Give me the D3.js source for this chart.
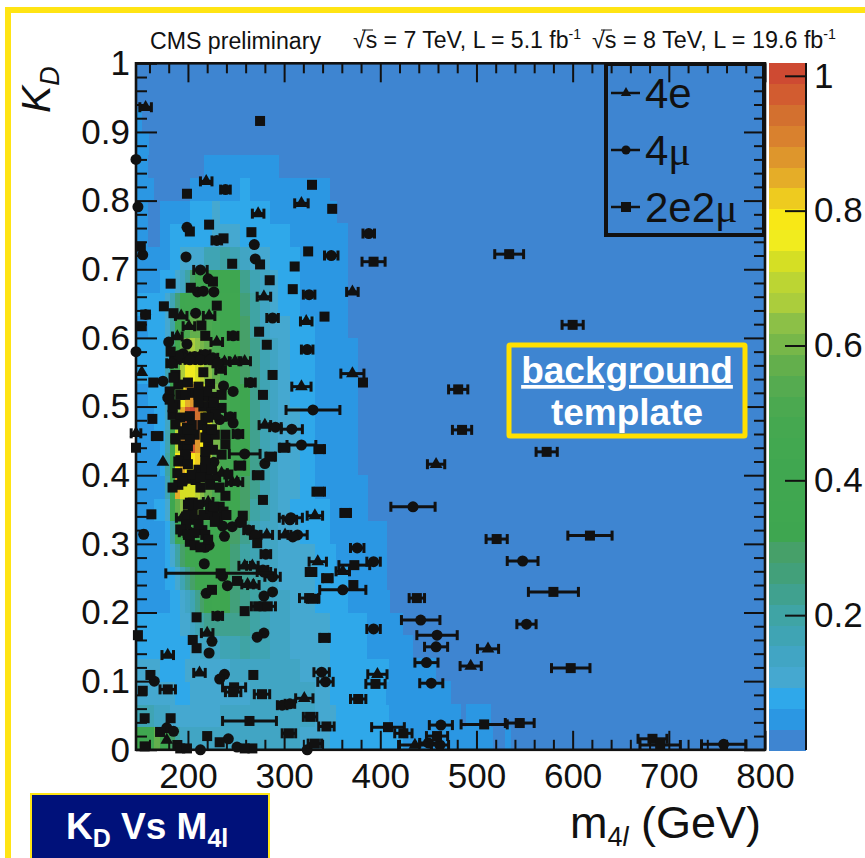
<!DOCTYPE html>
<html><head><meta charset="utf-8">
<script src="https://cdn.jsdelivr.net/npm/d3@7/dist/d3.min.js"></script>
<style>
html,body{margin:0;padding:0;background:#fff;overflow:hidden}
svg{display:block}
text{font-family:"Liberation Sans",Arial,sans-serif;fill:#111}
</style></head><body><div id="chart"></div>
<script>
// colour bands, lowest z first
const palette = ["#3E85D1","#2B97E3","#2FA8EA","#45A8D0","#41A5C4","#3FA4B4","#3FA4A5","#40A18F","#42A07A","#46A069",
"#3EA650","#3FA750","#40A750","#40A750","#42A850","#45A850","#4BA950","#55AB50","#63AF4C","#77B749","#8CC047",
"#ABCD3C","#BCD533","#D5DF24","#F1EC1E","#F8E816","#EECB1F","#E5AD28","#DE962C","#D9812E","#D3702F","#D25C30","#CE4A32"];
const xMajor = [200,300,400,500,600,700,800];
const yMajor = [0,0.1,0.2,0.3,0.4,0.5,0.6,0.7,0.8,0.9,1];
const zMajor = [0.2,0.4,0.6,0.8,1];
// template column edges in m4l (GeV)
const mEdges = [146,152.2,158.5,164.7,171,176.2,181.4,186.6,191.8,197,202.1,207.3,212.5,216.7,225,233.3,243.7,254.1,264.5,274.9,285.3,293.7,306.1,316.5,332.1,347.7,354,366.4,375.8,386.2,406,409.1,423.6,434,444.4,457.9,473.5,483.9,489.1,514.1,517.2,529.7,534.9];
// template values: first row is KD 0-1/30, each next row is 1/30 higher
const zRows = [
[.35,.35,.39,.57,.39,.35,.29,.20,.14,.14,.14,.14,.14,.14,.14,.14,.14,.14,.14,.14,.14,.14,.14,.11,.11,.08,.08,.08,.08,.08,.08,.08,.05,.05,.05,.05,.05,.05,.05,.05,.02,.05],
[.17,.17,.17,.14,.14,.14,.11,.11,.11,.11,.11,.11,.11,.11,.11,.14,.14,.14,.14,.14,.14,.14,.14,.14,.11,.11,.08,.08,.08,.08,.08,.05,.05,.05,.05,.05,.05,.02,.05],
[.11,.11,.11,.11,.11,.11,.11,.08,.08,.08,.11,.11,.11,.11,.11,.11,.11,.11,.14,.14,.14,.14,.14,.14,.11,.08,.08,.08,.08,.08,.05,.05,.05,.05,.05,.05],
[.11,.11,.11,.11,.08,.08,.08,.08,.08,.11,.11,.11,.11,.11,.11,.11,.14,.14,.14,.14,.14,.14,.14,.11,.11,.08,.08,.08,.08,.08,.08,.05,.05,.05,.05],
[.08,.08,.08,.08,.08,.08,.08,.08,.08,.08,.11,.11,.14,.14,.14,.17,.17,.20,.17,.17,.14,.14,.11,.11,.11,.08,.08,.08,.08,.05,.05,.05,.05],
[.08,.08,.08,.08,.08,.08,.08,.08,.11,.11,.14,.17,.20,.23,.23,.23,.23,.23,.20,.17,.14,.14,.11,.11,.11,.08,.08,.08,.08,.05,.05,.05],
[.05,.05,.05,.05,.05,.05,.08,.08,.11,.14,.17,.23,.29,.32,.35,.32,.26,.23,.20,.17,.14,.14,.11,.11,.08,.08,.08,.05,.05,.05,.05],
[.05,.05,.05,.05,.05,.08,.08,.11,.17,.23,.29,.35,.35,.35,.35,.32,.26,.23,.20,.17,.14,.11,.11,.11,.08,.08,.08,.05,.05,.05],
[.05,.05,.05,.05,.05,.08,.11,.20,.29,.35,.39,.35,.35,.35,.35,.32,.26,.20,.17,.14,.14,.11,.11,.11,.08,.08,.05,.05,.05,.05],
[.05,.05,.05,.05,.05,.08,.20,.35,.42,.48,.45,.42,.39,.35,.35,.32,.29,.23,.17,.14,.14,.11,.11,.08,.08,.05,.05,.05,.05,.05],
[.05,.05,.05,.08,.08,.11,.32,.57,.63,.69,.69,.63,.54,.51,.45,.39,.35,.29,.20,.17,.14,.11,.08,.08,.08,.05,.05,.05,.05],
[.05,.05,.05,.05,.05,.17,.42,.85,.73,.73,.73,.69,.63,.57,.51,.42,.35,.29,.23,.17,.14,.11,.11,.08,.05,.05,.05,.05,.05],
[.05,.05,.05,.05,.08,.20,.45,.79,.85,.79,.79,.82,.76,.66,.57,.48,.39,.32,.23,.17,.14,.11,.11,.08,.05,.05,.05,.05],
[.05,.05,.05,.05,.08,.17,.39,.69,.88,1,.97,.88,.79,.69,.60,.48,.39,.32,.23,.17,.14,.11,.11,.08,.05,.05,.05,.05],
[.05,.05,.05,.08,.08,.14,.35,.63,.85,.97,1,.94,.82,.73,.63,.48,.39,.32,.23,.17,.14,.11,.11,.08,.05,.05,.05,.05],
[.05,.05,.08,.08,.08,.14,.35,.57,.76,.85,.88,.82,.79,.69,.60,.48,.39,.32,.23,.17,.14,.11,.08,.08,.05,.05,.05,.05],
[.08,.08,.08,.08,.08,.17,.32,.51,.66,.76,.76,.73,.69,.63,.57,.45,.39,.29,.23,.17,.14,.11,.08,.08,.05,.05,.05,.05],
[.08,.08,.08,.08,.08,.14,.26,.42,.57,.63,.66,.63,.60,.57,.51,.45,.35,.29,.23,.17,.14,.11,.08,.08,.05,.05,.05,.05],
[.05,.05,.08,.08,.08,.11,.20,.35,.45,.51,.57,.57,.54,.51,.48,.42,.35,.29,.20,.14,.11,.11,.08,.08,.05,.05,.05],
[.08,.08,.08,.08,.08,.11,.17,.26,.35,.39,.42,.42,.42,.42,.42,.39,.35,.26,.20,.14,.11,.08,.08,.05,.05,.05,.05],
[.05,.05,.05,.05,.08,.08,.08,.11,.14,.20,.29,.35,.35,.35,.35,.35,.32,.23,.17,.14,.11,.08,.08,.05,.05,.05,.05],
[.05,.05,.05,.05,.05,.05,.08,.08,.11,.11,.11,.11,.11,.17,.17,.20,.17,.14,.11,.11,.08,.08,.08,.05,.05,.05,.05],
[.05,.05,.02,.02,.05,.05,.08,.08,.08,.08,.08,.08,.08,.08,.11,.11,.11,.08,.08,.08,.08,.08,.05,.05,.05,.05,.05],
[.05,.05,.02,.02,.05,.05,.05,.05,.05,.05,.08,.08,.08,.08,.11,.08,.08,.08,.08,.08,.05,.05,.05,.05,.05,.05],
[.05,.05,.05,.02,.02,.02,.02,.02,.02,.02,.05,.05,.05,.05,.05,.05,.05,.08,.05,.05,.05,.05,.05,.05,.05],
[.05,.05,.02,.02,.02,.02,.02,.02,.02,.02,.02,.02,.02,.05,.05,.05,.05,.05,.05,.05,.05],
[.05,.05],
[.05]
];
// points: [m4l (GeV), KD, half width of the mass error (GeV)]
const fourE = [[156,.936,6],[219,.828,6],[318,.796,7],[273,.781,6],[371,.667,6],[279,.660,7],[193,.632,6],[222,.632,6],[323,.624,6],[201,.617,6],[230,.594,6],[189,.602,5],[371,.548,12],[318,.529,10],[152,.550,0],[146,.461,5],[174,.419,0],[280,.473,6],[234,.553,5],[259,.566,6],[249,.566,6],[238,.565,6],[204,.393,6],[235,.403,6],[246,.390,6],[251,.390,6],[228,.397,5],[194,.338,6],[221,.361,5],[197,.317,6],[202,.316,6],[282,.313,6],[301,.313,6],[259,.268,6],[267,.268,6],[262,.241,6],[268,.240,6],[220,.170,6],[179,.138,6],[212,.112,6],[321,.075,9],[332,.341,8],[335,.274,9],[361,.260,7],[397,.110,10],[178,.014,0],[436,.007,17],[512,.147,11],[494,.122,11],[458,.416,9]];
const fourMu = [[146,.860,0],[148,.791,0],[146,.580,0],[239,.816,5],[199,.761,0],[230,.742,5],[269,.736,0],[388,.752,6],[153,.721,0],[198,.718,0],[270,.715,0],[349,.720,7],[213,.699,7],[221,.686,0],[227,.667,0],[326,.663,6],[210,.667,0],[216,.668,0],[208,.636,0],[156,.634,4],[288,.629,6],[247,.603,5],[180,.594,0],[199,.591,0],[324,.583,6],[195,.577,0],[265,.535,5],[237,.530,0],[247,.522,0],[174,.537,0],[179,.513,0],[244,.485,5],[233,.481,0],[247,.476,0],[252,.460,5],[291,.470,6],[308,.467,11],[330,.495,28],[318,.444,15],[259,.431,16],[280,.417,0],[227,.419,0],[154,.314,0],[306,.335,7],[236,.326,0],[246,.325,0],[254,.331,0],[238,.311,0],[263,.320,5],[270,.313,5],[222,.298,0],[218,.295,0],[281,.285,5],[217,.271,0],[278,.262,5],[279,.259,7],[288,.252,8],[236,.253,0],[241,.239,0],[219,.228,0],[288,.230,0],[279,.224,0],[231,.195,5],[279,.170,0],[272,.164,0],[393,.176,7],[225,.158,0],[222,.141,0],[238,.110,0],[233,.103,0],[165,.100,0],[298,.065,5],[306,.067,5],[178,.032,0],[185,.027,0],[242,.016,0],[213,0,0],[251,.004,0],[324,0,0],[339,.113,8],[343,.099,8],[361,.233,24],[376,.294,7],[393,.274,7],[307,.338,12],[314,.313,10],[309,.310,0],[442,.189,20],[459,.167,21],[458,.150,12],[448,.127,12],[453,.097,12],[463,.036,12],[552,.183,10],[548,.275,16],[434,.354,23],[757,.008,23],[450,.010,9],[462,.007,9],[187,.568,5],[195,.571,5],[207,.573,5],[218,.576,5],[226,.571,5],[190,.574,5],[202,.568,5],[213,.568,5],[223,.568,5],[231,.563,5],[183,.563,5]];
const twoETwoMu = [[275,.916,0],[199,.810,0],[329,.823,0],[350,.788,0],[222,.765,0],[202,.755,0],[237,.745,0],[266,.754,0],[325,.726,0],[246,.708,0],[275,.707,0],[311,.704,0],[393,.711,12],[285,.684,0],[182,.679,0],[203,.673,0],[309,.671,0],[226,.682,0],[175,.646,0],[230,.647,0],[185,.636,0],[342,.631,0],[214,.618,0],[152,.617,0],[218,.603,0],[274,.609,0],[282,.590,0],[182,.580,0],[288,.546,0],[382,.535,0],[278,.517,0],[164,.535,0],[223,.533,0],[151,.733,0],[163,.482,0],[146,.440,0],[224,.500,0],[216,.500,0],[225,.514,0],[235,.517,0],[239,.459,0],[228,.459,0],[189,.403,0],[190,.386,0],[220,.400,0],[218,.422,0],[239,.370,0],[205,.360,0],[202,.360,0],[205,.347,0],[200,.342,0],[207,.335,0],[216,.342,0],[223,.352,0],[233,.354,0],[237,.347,0],[226,.342,0],[231,.339,0],[240,.342,0],[278,.364,0],[257,.341,0],[256,.332,0],[215,.320,0],[207,.316,0],[202,.303,0],[207,.298,0],[213,.295,0],[272,.301,0],[162,.343,0],[234,.257,57],[251,.246,0],[225,.233,0],[259,.202,0],[209,.193,0],[148,.167,0],[205,.160,0],[209,.148,0],[268,.109,0],[161,.109,0],[264,.042,28],[155,.046,0],[182,.046,0],[171,.026,0],[220,.020,0],[233,.011,0],[155,.005,0],[189,.007,0],[192,.002,0],[199,.002,0],[267,.002,0],[259,.002,0],[373,.269,16],[372,.240,0],[438,.221,8],[580,.230,26],[598,.119,20],[395,.096,10],[377,.074,8],[508,.037,24],[545,.039,15],[408,.033,17],[424,.024,9],[459,.020,11],[683,.016,15],[691,.007,21],[521,.307,11],[618,.312,23],[534,.722,15],[600,.619,11],[481,.525,10],[485,.466,10],[573,.434,11],[277,.081,8],[327,.048,7],[344,.034,8],[179,.088,8],[153,.086,0],[248,.091,12],[247,.084,8],[305,.024,7],[332,.009,7],[300,.440,5],[337,.438,5],[254,.414,5],[273,.400,5],[336,.376,6],[286,.427,5],[168,.457,5],[364,.345,5],[328,.259,5],[345,.250,5],[326,.221,10],[330,.220,6],[273,.209,7],[283,.209,8],[342,.163,5],
[187,.546,0],[216,.550,0],[190,.532,0],[200,.535,0],[211,.529,0],[181,.522,0],[192,.517,0],[204,.520,0],[216,.514,0],[187,.503,0],[211,.506,0],[184,.488,0],[192,.484,0],[202,.486,0],[218,.484,0],[225,.492,0],[235,.498,0],[199,.469,0],[204,.473,0],[215,.473,0],[187,.454,0],[197,.459,0],[207,.459,0],[220,.466,0],[195,.443,0],[200,.442,0],[221,.446,0],[192,.422,0],[198,.427,0],[211,.408,0],[199,.396,0],[208,.393,0],
[185,.542,0],[181,.510,0],[184,.499,0],[220,.522,0],[227,.506,0],[229,.488,0],[197,.517,0],[211,.517,0],[221,.484,0],[187,.474,0],[195,.464,0],[187,.452,0],[202,.452,0],[218,.455,0],[225,.467,0],[200,.467,0],[239,.445,0],[226,.437,0],[235,.430,0],[218,.434,0],[197,.430,0],[190,.420,0],[200,.416,0],[218,.411,0],[204,.401,0],[213,.397,0],[225,.408,0],[184,.382,0],[194,.391,0],[213,.382,0],[223,.386,0],[233,.382,0],[242,.401,0],[200,.357,0],[211,.357,0],[198,.328,0],[211,.328,0],[218,.313,0],[192,.321,0],[227,.354,0],[228,.332,0],[221,.306,0],[200,.313,0]];
// legend and text
const legendLabels = ["4e","4μ","2e2μ"];
const xTitle = ["m","4","l"," (GeV)"];
const headerLeft = "CMS preliminary";

const W=865,H=858;
const svg=d3.select("#chart").append("svg").attr("width",W).attr("height",H);
const L=136,R=765,T=63.3,B=749.8;
const x=d3.scaleLinear().domain([146,800]).range([L,R]);
const y=d3.scaleLinear().domain([0,1]).range([B,T]);
const zMax=1.019;
const z=d3.scaleLinear().domain([0,zMax]).range([750,63]);
const colour=d3.scaleQuantize().domain([0,zMax]).range(palette);
const ink="#111";

// yellow slide frame
svg.append("rect").attr("x",5).attr("y",7).attr("width",W).attr("height",6).attr("fill","#FFE414");
svg.append("rect").attr("x",5).attr("y",7).attr("width",6).attr("height",H).attr("fill","#FFE414");

// header
const hdr=svg.append("g").attr("font-size",23);
hdr.append("text").attr("x",150).attr("y",49).attr("textLength",171).attr("lengthAdjust","spacingAndGlyphs").text(headerLeft);
function lumi(x0,w,txt,sup){
  const t=hdr.append("text").attr("x",x0).attr("y",48);
  t.append("tspan").text(txt);
  t.append("tspan").attr("dy",-9).attr("font-size",14).text(sup);
  return t;
}
lumi(353,228,"√s = 7 TeV, L = 5.1 fb","-1").attr("textLength",228).attr("lengthAdjust","spacingAndGlyphs");
lumi(592,244,"√s = 8 TeV, L = 19.6 fb","-1").attr("textLength",244).attr("lengthAdjust","spacingAndGlyphs");
[[362,373],[601,612]].forEach(e=>hdr.append("line").attr("x1",e[0]).attr("x2",e[1]).attr("y1",30).attr("y2",30).attr("stroke",ink).attr("stroke-width",1));

// heat map
const plot=svg.append("g").attr("shape-rendering","crispEdges");
plot.append("rect").attr("x",L).attr("y",T).attr("width",R-L).attr("height",B-T).attr("fill",palette[0]);
zRows.forEach((row,r)=>{
  plot.selectAll(null).data(row).join("rect")
    .attr("x",(d,i)=>x(mEdges[i]))
    .attr("width",(d,i)=>x(mEdges[i+1])-x(mEdges[i])+0.5)
    .attr("y",y((r+1)/30))
    .attr("height",y(r/30)-y((r+1)/30)+0.5)
    .attr("fill",d=>colour(d));
});

// axes
function styleAxis(g,sw){g.selectAll("line").attr("stroke",ink).attr("stroke-width",sw);g.select(".domain").remove();}
const xMinor=d3.range(160,801,20).filter(v=>v%100!==0);
const yMinor=d3.range(0,51).map(i=>i/50).filter(v=>Math.round(v*50)%5!==0);
const axes=svg.append("g");
axes.append("g").attr("transform",`translate(0,${B})`).call(d3.axisBottom(x).tickValues(xMajor).tickFormat(d3.format("d")).tickSizeInner(-19).tickSizeOuter(0).tickPadding(13)).call(g=>styleAxis(g,2)).selectAll("text").attr("font-size",35).attr("fill",ink).attr("font-family","Liberation Sans");
axes.append("g").attr("transform",`translate(0,${B})`).call(d3.axisBottom(x).tickValues(xMinor).tickFormat("").tickSizeInner(-10).tickSizeOuter(0)).call(g=>styleAxis(g,2));
axes.append("g").attr("transform",`translate(0,${T})`).call(d3.axisTop(x).tickValues(xMajor).tickFormat("").tickSizeInner(-19).tickSizeOuter(0)).call(g=>styleAxis(g,2));
axes.append("g").attr("transform",`translate(0,${T})`).call(d3.axisTop(x).tickValues(xMinor).tickFormat("").tickSizeInner(-10).tickSizeOuter(0)).call(g=>styleAxis(g,2));
axes.append("g").attr("transform",`translate(${L},0)`).call(d3.axisLeft(y).tickValues(yMajor).tickFormat(d3.format("~g")).tickSizeInner(-21).tickSizeOuter(0).tickPadding(6)).call(g=>styleAxis(g,2)).selectAll("text").attr("font-size",35).attr("fill",ink).attr("font-family","Liberation Sans");
axes.append("g").attr("transform",`translate(${L},0)`).call(d3.axisLeft(y).tickValues(yMinor).tickFormat("").tickSizeInner(-11).tickSizeOuter(0)).call(g=>styleAxis(g,2));
axes.append("g").attr("transform",`translate(${R},0)`).call(d3.axisRight(y).tickValues(yMajor).tickFormat("").tickSizeInner(-21).tickSizeOuter(0)).call(g=>styleAxis(g,2));
axes.append("g").attr("transform",`translate(${R},0)`).call(d3.axisRight(y).tickValues(yMinor).tickFormat("").tickSizeInner(-11).tickSizeOuter(0)).call(g=>styleAxis(g,2));
svg.append("rect").attr("x",L).attr("y",T).attr("width",R-L).attr("height",B-T).attr("fill","none").attr("stroke",ink).attr("stroke-width",2.6);

// colour bar
const cbL=768.5,cbR=806;
const cb=svg.append("g");
cb.append("g").attr("shape-rendering","crispEdges").selectAll("rect").data(palette).join("rect")
  .attr("x",cbL).attr("width",cbR-cbL)
  .attr("y",(d,i)=>z((i+1)*zMax/palette.length))
  .attr("height",(d,i)=>z(i*zMax/palette.length)-z((i+1)*zMax/palette.length)+0.5)
  .attr("fill",d=>d);
cb.append("g").attr("transform",`translate(${cbR},0)`).call(d3.axisRight(z).tickValues(zMajor).tickFormat(d3.format("~g")).tickSizeInner(-21).tickSizeOuter(0).tickPadding(8)).call(g=>styleAxis(g,2)).selectAll("text").attr("font-size",35).attr("fill",ink).attr("font-family","Liberation Sans");
cb.append("line").attr("x1",cbR).attr("x2",cbR).attr("y1",63).attr("y2",750).attr("stroke",ink).attr("stroke-width",2);

// points
const triangle=d3.symbol().type(d3.symbolTriangle).size(70);
const circleR=5.5,sq=10,capH=5;
function drawSeries(data,kind){
  const g=svg.append("g");
  const withErr=data.filter(d=>d[2]>0);
  g.selectAll("line.bar").data(withErr).join("line").attr("class","bar")
    .attr("x1",d=>x(d[0]-d[2])).attr("x2",d=>x(d[0]+d[2]))
    .attr("y1",d=>y(d[1])).attr("y2",d=>y(d[1])).attr("stroke",ink).attr("stroke-width",3);
  ["-1","1"].forEach(s=>{
    g.selectAll(null).data(withErr).join("line")
      .attr("x1",d=>x(d[0]+s*d[2])).attr("x2",d=>x(d[0]+s*d[2]))
      .attr("y1",d=>y(d[1])-capH).attr("y2",d=>y(d[1])+capH).attr("stroke",ink).attr("stroke-width",3);
  });
  if(kind==="c") g.selectAll("circle").data(data).join("circle").attr("cx",d=>x(d[0])).attr("cy",d=>y(d[1])).attr("r",circleR).attr("fill",ink);
  if(kind==="s") g.selectAll("rect").data(data).join("rect").attr("x",d=>x(d[0])-sq/2).attr("y",d=>y(d[1])-sq/2).attr("width",sq).attr("height",sq).attr("fill",ink);
  if(kind==="t") g.selectAll("path").data(data).join("path").attr("d",triangle).attr("transform",d=>`translate(${x(d[0])},${y(d[1])})`).attr("fill",ink);
}
drawSeries(fourE,"t");
drawSeries(fourMu,"c");
drawSeries(twoETwoMu,"s");

// legend
const lg=svg.append("g");
lg.append("rect").attr("x",606).attr("y",64).attr("width",158).attr("height",171).attr("fill","none").attr("stroke",ink).attr("stroke-width",4);
[93,150,207].forEach((cy,i)=>{
  lg.append("line").attr("x1",611).attr("x2",640).attr("y1",cy).attr("y2",cy).attr("stroke",ink).attr("stroke-width",2.5);
  if(i===0) lg.append("path").attr("d",d3.symbol().type(d3.symbolTriangle).size(45)).attr("transform",`translate(626,${cy})`).attr("fill",ink);
  if(i===1) lg.append("circle").attr("cx",626).attr("cy",cy).attr("r",4.5).attr("fill",ink);
  if(i===2) lg.append("rect").attr("x",621).attr("y",cy-5).attr("width",10).attr("height",10).attr("fill",ink);
  const t=lg.append("text").attr("x",645).attr("y",cy+15).attr("font-size",42);
  const label=legendLabels[i];
  const parts=label.split("μ");
  t.append("tspan").text(parts[0]);
  if(label.includes("μ")) t.append("tspan").attr("font-family","Liberation Serif").text("μ");
});

// annotation box
svg.append("rect").attr("x",509).attr("y",345).attr("width",236).attr("height",91).attr("fill","none").attr("stroke","#FFE000").attr("stroke-width",5).attr("rx",1);
svg.append("text").attr("x",627).attr("y",383).attr("text-anchor","middle").attr("font-size",37).attr("font-weight","bold").attr("text-decoration","underline").style("fill","#fff").text("background");
svg.append("text").attr("x",627).attr("y",425).attr("text-anchor","middle").attr("font-size",37).attr("font-weight","bold").style("fill","#fff").text("template");

// axis titles
const xt=svg.append("text").attr("x",570).attr("y",838).attr("font-size",45);
xt.append("tspan").text(xTitle[0]);
xt.append("tspan").attr("dy",8).attr("font-size",27).text(xTitle[1]);
xt.append("tspan").attr("font-size",27).attr("font-style","italic").text(xTitle[2]);
xt.append("tspan").attr("dy",-8).text(xTitle[3]);
const yt=svg.append("text").attr("transform","translate(50,113) rotate(-90)").attr("font-size",41).attr("font-style","italic");
yt.append("tspan").text("K");
yt.append("tspan").attr("dy",9).attr("font-size",27).text("D");

// title box
svg.append("rect").attr("x",31).attr("y",794).attr("width",238).attr("height",70).attr("fill","#00117A").attr("stroke","#FFE414").attr("stroke-width",2);
const bt=svg.append("text").attr("x",66).attr("y",839).attr("font-size",37).attr("font-weight","bold").style("fill","#fff");
bt.append("tspan").style("fill","#fff").text("K");
bt.append("tspan").attr("dy",8).attr("font-size",25).style("fill","#fff").text("D");
bt.append("tspan").attr("dy",-8).style("fill","#fff").text(" Vs M");
bt.append("tspan").attr("dy",8).attr("font-size",25).style("fill","#fff").text("4l");
</script></body></html>
